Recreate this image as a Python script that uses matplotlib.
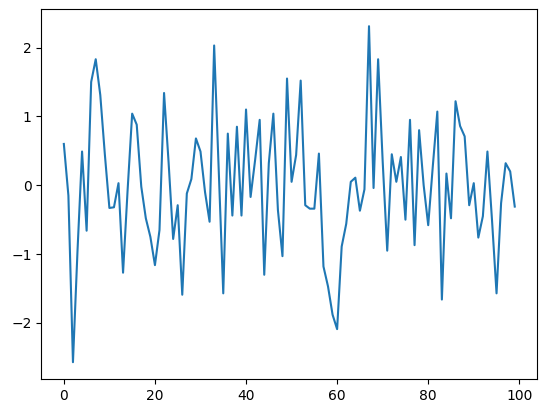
import numpy as np
import matplotlib
matplotlib.use('Agg')
import matplotlib.pyplot as plt

# values, index 0..99
y_vals = [
    0.60, -0.15, -2.57, -0.95, 0.49, -0.66, 1.50, 1.83, 1.31, 0.45,
    -0.33, -0.32, 0.03, -1.27, -0.07, 1.04, 0.88, -0.02, -0.48, -0.75,
    -1.16, -0.65, 1.34, 0.33, -0.78, -0.29, -1.59, -0.12, 0.09, 0.68,
    0.49, -0.10, -0.53, 2.03, 0.23, -1.57, 0.75, -0.44, 0.85, -0.44,
    1.10, -0.17, 0.37, 0.95, -1.30, 0.32, 1.04, -0.36, -1.03, 1.55,
    0.05, 0.44, 1.52, -0.29, -0.34, -0.34, 0.46, -1.18, -1.47, -1.88,
    -2.09, -0.89, -0.56, 0.05, 0.11, -0.37, -0.06, 2.31, -0.04, 1.83,
    0.35, -0.95, 0.45, 0.05, 0.41, -0.50, 0.95, -0.87, 0.80, 0.00,
    -0.58, 0.27, 1.07, -1.66, 0.17, -0.48, 1.22, 0.86, 0.71, -0.29,
    0.03, -0.76, -0.45, 0.49, -0.50, -1.57, -0.26, 0.32, 0.20, -0.31,
]
x_vals = np.arange(len(y_vals))

fig = plt.figure(figsize=(5.46, 4.13), dpi=100)
ax = fig.add_axes([41.3 / 546, 34 / 413, 496 / 546, 369.6 / 413])
ax.plot(x_vals, y_vals, color='#1f77b4', linewidth=1.5)
fig.savefig('out.png', dpi=100)
